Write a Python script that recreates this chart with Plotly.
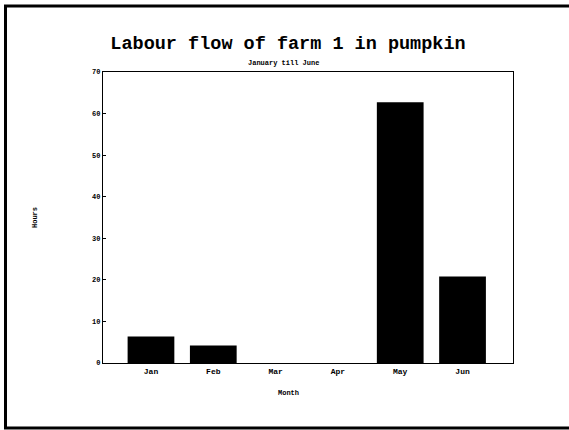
import plotly.graph_objects as go

# Labour hours per month for farm 1 (pumpkin)
months = ["Jan", "Feb", "Mar", "Apr", "May", "Jun"]
hours = [6.4, 4.2, 0, 0, 62.7, 20.8]
y_ticks = [0, 10, 20, 30, 40, 50, 60, 70]

W, H = 569, 430
L, R, T, B = 103, 56, 72, 67
pw, ph = W - L - R, H - T - B


def px_x(x):
    return (x - L) / pw


def px_y(y):
    return 1 - (y - T) / ph


mono = "Liberation Mono, Courier New, monospace"

fig = go.Figure(
    go.Bar(
        x=months,
        y=hours,
        marker=dict(color="black", line=dict(width=0)),
        width=0.75,
    )
)

fig.update_layout(
    width=W,
    height=H,
    margin=dict(l=L, r=R, t=T, b=B),
    paper_bgcolor="white",
    plot_bgcolor="white",
    showlegend=False,
    font=dict(family=mono, color="black"),
    xaxis=dict(
        range=[-0.77, 5.81],
        showline=True,
        linecolor="black",
        linewidth=1.3,
        mirror=True,
        ticks="",
        tickfont=dict(size=8, family=mono, weight="bold"),
        showgrid=False,
        zeroline=False,
    ),
    yaxis=dict(
        range=[0, 70],
        tickvals=y_ticks,
        showline=True,
        linecolor="black",
        linewidth=1.3,
        mirror=True,
        ticks="inside",
        ticklen=3,
        tickcolor="black",
        tickfont=dict(size=7, family=mono, weight="bold"),
        showgrid=False,
        zeroline=False,
    ),
    title=dict(
        text="<b>Labour flow of farm 1 in pumpkin</b>",
        x=288 / W,
        xanchor="center",
        xref="container",
        y=1 - 43 / H,
        yanchor="middle",
        yref="container",
        font=dict(family=mono, size=18.5, color="black"),
    ),
    annotations=[
        dict(
            text="<b>January till June</b>",
            x=px_x(283), y=px_y(63), xref="paper", yref="paper",
            showarrow=False, font=dict(size=7, family=mono),
            xanchor="center", yanchor="middle",
        ),
        dict(
            text="<b>Month</b>",
            x=px_x(288), y=px_y(393), xref="paper", yref="paper",
            showarrow=False, font=dict(size=7, family=mono),
            xanchor="center", yanchor="middle",
        ),
        dict(
            text="<b>Hours</b>",
            x=px_x(35), y=px_y(218), xref="paper", yref="paper",
            showarrow=False, textangle=-90, font=dict(size=7, family=mono),
            xanchor="center", yanchor="middle",
        ),
    ],
    shapes=[
        # outer frame; its right edge runs just past the page edge
        dict(
            type="rect", xref="paper", yref="paper",
            x0=px_x(5.5), x1=px_x(576), y0=px_y(428), y1=px_y(6),
            line=dict(color="black", width=3),
        )
    ],
)

fig.write_html("out.html")
